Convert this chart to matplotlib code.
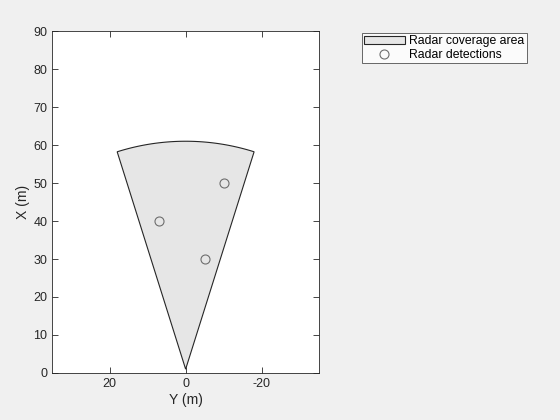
import numpy as np
import matplotlib
matplotlib.use("Agg")
import matplotlib.pyplot as plt
from matplotlib.patches import Polygon

plt.rcParams["font.family"] = ["Liberation Sans", "DejaVu Sans"]
plt.rcParams["axes.unicode_minus"] = False

# radar sensor
SENSOR_X = 1.0      # m, mounting position along X
RANGE = 60.0        # m
FOV = 35.0          # deg

# detections (X, Y) in metres
DET_X = [40, 30, 50]
DET_Y = [7, -5, -10]

X_TICKS = [20, 0, -20]
Y_TICKS = list(range(0, 91, 10))

fig = plt.figure(figsize=(5.6, 4.2), dpi=100)
fig.patch.set_facecolor("#f0f0f0")
ax = fig.add_axes([0.093, 0.112, 0.477, 0.814])

ang = np.deg2rad(np.linspace(-FOV / 2, FOV / 2, 60))
ys = RANGE * np.sin(ang)
xs = SENSOR_X + RANGE * np.cos(ang)
verts = [(0, SENSOR_X)] + list(zip(ys, xs))
cov = Polygon(verts, closed=True, facecolor="#e6e6e6", edgecolor="#262626",
              linewidth=0.8, label="Radar coverage area")
ax.add_patch(cov)

ax.plot(DET_Y, DET_X, "o", markersize=6.5, markerfacecolor="none",
        markeredgecolor="#6e6e6e", markeredgewidth=0.8, label="Radar detections")

ax.set_xlim(35.2, -35.2)
ax.set_ylim(0, 90)
ax.set_xticks(X_TICKS)
ax.set_yticks(Y_TICKS)
ax.tick_params(direction="in", top=True, right=True, labelsize=9,
               colors="#262626", length=4, width=0.6)
for s in ax.spines.values():
    s.set_color("#262626")
    s.set_linewidth(0.6)
ax.set_xlabel("Y (m)", fontsize=10, color="#262626", labelpad=2)
ax.set_ylabel("X (m)", fontsize=10, color="#262626", labelpad=2)

leg = fig.legend(loc="upper left", bbox_to_anchor=(0.646, 0.922), fontsize=8.8,
                 frameon=True, fancybox=False, edgecolor="#262626",
                 borderpad=0.2, labelspacing=0.15, handlelength=3.3,
                 handletextpad=0.35, borderaxespad=0)
leg.get_frame().set_linewidth(0.6)

fig.savefig("out.png", dpi=100, facecolor=fig.get_facecolor())
